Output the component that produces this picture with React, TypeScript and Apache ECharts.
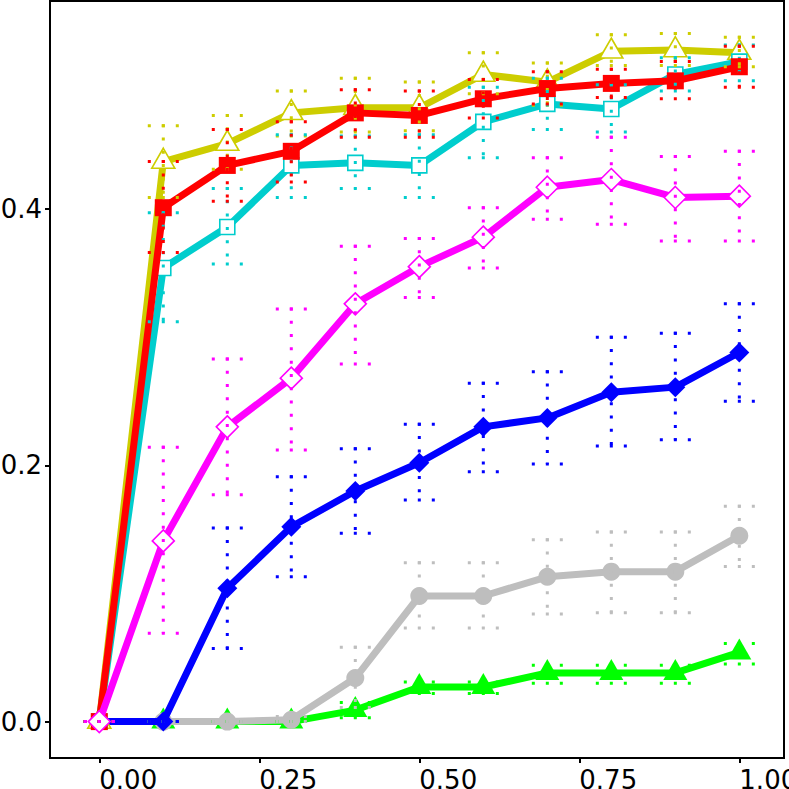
import React, { useEffect, useRef } from "react";
import * as echarts from "echarts";

const xValues = [0, 0.1, 0.2, 0.3, 0.4, 0.5, 0.6, 0.7, 0.8, 0.9, 1.0];
const xTickValues = [0, 0.25, 0.5, 0.75, 1.0];
const yTickValues = [0, 0.2, 0.4];

const yellowMean = [0, 0.437, 0.451, 0.475, 0.479, 0.479, 0.505, 0.499, 0.523, 0.524, 0.522];
const yellowLow = [0, 0.409, 0.431, 0.457, 0.46, 0.461, 0.49, 0.481, 0.512, 0.512, 0.511];
const yellowHigh = [0, 0.465, 0.473, 0.492, 0.502, 0.499, 0.522, 0.514, 0.536, 0.537, 0.534];

const redMean = [0, 0.401, 0.434, 0.445, 0.475, 0.473, 0.486, 0.494, 0.498, 0.5, 0.511];
const redLow = [0, 0.366, 0.406, 0.421, 0.456, 0.456, 0.471, 0.482, 0.487, 0.486, 0.495];
const redHigh = [0, 0.437, 0.462, 0.468, 0.493, 0.492, 0.501, 0.507, 0.509, 0.515, 0.527];

const cyanMean = [0, 0.354, 0.386, 0.434, 0.436, 0.434, 0.468, 0.482, 0.478, 0.505, 0.515];
const cyanLow = [0, 0.312, 0.357, 0.409, 0.416, 0.409, 0.44, 0.462, 0.46, 0.492, 0.5];
const cyanHigh = [0, 0.397, 0.416, 0.458, 0.457, 0.458, 0.495, 0.502, 0.497, 0.518, 0.528];

const magentaMean = [0, 0.141, 0.23, 0.268, 0.326, 0.355, 0.378, 0.417, 0.423, 0.409, 0.41];
const magentaLow = [0, 0.069, 0.177, 0.212, 0.279, 0.331, 0.354, 0.392, 0.388, 0.375, 0.375];
const magentaHigh = [0, 0.214, 0.283, 0.322, 0.371, 0.377, 0.401, 0.44, 0.456, 0.441, 0.445];

const blueMean = [0, 0, 0.104, 0.152, 0.18, 0.202, 0.23, 0.237, 0.257, 0.261, 0.288];
const blueLow = [0, 0, 0.057, 0.113, 0.147, 0.173, 0.195, 0.201, 0.215, 0.22, 0.25];
const blueHigh = [0, 0, 0.151, 0.191, 0.213, 0.232, 0.264, 0.273, 0.3, 0.303, 0.326];

const grayMean = [0, 0, 0, 0.0015, 0.034, 0.098, 0.098, 0.113, 0.117, 0.117, 0.145];
const grayLow = [0, 0, 0, 0, 0.011, 0.073, 0.073, 0.084, 0.085, 0.085, 0.121];
const grayHigh = [0, 0, 0, 0.004, 0.058, 0.124, 0.124, 0.142, 0.148, 0.148, 0.168];

const greenMean = [0, 0, 0, 0, 0.009, 0.027, 0.027, 0.038, 0.038, 0.038, 0.054];
const greenLow = [0, 0, 0, 0, 0.003, 0.022, 0.022, 0.03, 0.03, 0.03, 0.045];
const greenHigh = [0, 0, 0, 0, 0.015, 0.031, 0.031, 0.044, 0.044, 0.044, 0.061];

type Group = {
  name: string;
  color: string;
  symbol: string;
  size: number | number[];
  offset: number[];
  hollow: boolean;
  mean: number[];
  low: number[];
  high: number[];
};

// drawing order: first is bottom-most
const groups: Group[] = [
  { name: "green", color: "#00FF00", symbol: "triangle", size: [24, 21], offset: [0, -3.5], hollow: false, mean: greenMean, low: greenLow, high: greenHigh },
  { name: "gray", color: "#BEBEBE", symbol: "circle", size: 18, offset: [0, 0], hollow: false, mean: grayMean, low: grayLow, high: grayHigh },
  { name: "blue", color: "#0000FF", symbol: "diamond", size: 20, offset: [0, 0], hollow: false, mean: blueMean, low: blueLow, high: blueHigh },
  { name: "yellow", color: "#CDCD00", symbol: "triangle", size: [23, 20], offset: [0, -3.3], hollow: true, mean: yellowMean, low: yellowLow, high: yellowHigh },
  { name: "cyan", color: "#00CDCD", symbol: "rect", size: 15, offset: [0, 0], hollow: true, mean: cyanMean, low: cyanLow, high: cyanHigh },
  { name: "red", color: "#FF0000", symbol: "rect", size: 17, offset: [0, 0], hollow: false, mean: redMean, low: redLow, high: redHigh },
  { name: "magenta", color: "#FF00FF", symbol: "diamond", size: 22, offset: [0, 0], hollow: true, mean: magentaMean, low: magentaLow, high: magentaHigh },
];

export default function App() {
  const ref = useRef<HTMLDivElement>(null);

  useEffect(() => {
    document.body.style.margin = "0";
    const chart = echarts.init(ref.current as HTMLDivElement, null, { renderer: "svg" });

    const lineSeries = groups.map((g, i) => ({
      type: "line",
      name: g.name,
      data: xValues.map((x, j) => [x, g.mean[j]]),
      symbol: g.symbol,
      symbolSize: g.size,
      symbolOffset: g.offset,
      showAllSymbol: true,
      z: 2 + i * 0.01,
      lineStyle: { color: g.color, width: 7, cap: "round", join: "round" },
      itemStyle: g.hollow
        ? { color: "#ffffff", borderColor: g.color, borderWidth: 1.6, opacity: 1 }
        : { color: g.color, borderWidth: 0, opacity: 1 },
      emphasis: { disabled: true },
      silent: true,
      clip: false,
    }));

    const errorSeries = groups.map((g) => ({
      type: "custom",
      name: g.name + "-err",
      coordinateSystem: "cartesian2d",
      data: xValues.map((x, j) => [x, g.low[j], g.high[j]]),
      encode: { x: 0, y: [1, 2] },
      z: 10,
      silent: true,
      renderItem: (_params: any, api: any) => {
        const x = api.value(0);
        const lo = api.coord([x, api.value(1)]);
        const hi = api.coord([x, api.value(2)]);
        const half = 15.5;
        const style = {
          stroke: g.color,
          lineWidth: 3,
          lineDash: [3, 10.3],
          lineCap: "butt",
          fill: null,
        };
        const capStyle = { ...style, lineDash: [3, 11] };
        return {
          type: "group",
          children: [
            { type: "line", shape: { x1: hi[0], y1: hi[1] - 1.5, x2: lo[0], y2: lo[1] }, style },
            { type: "line", shape: { x1: hi[0] - half, y1: hi[1], x2: hi[0] + half, y2: hi[1] }, style: capStyle },
            { type: "line", shape: { x1: lo[0] - half, y1: lo[1], x2: lo[0] + half, y2: lo[1] }, style: capStyle },
          ],
        };
      },
    }));

    const labelFont = {
      fontFamily: "DejaVu Sans",
      fontSize: 26,
      color: "#000000",
    };

    const option = {
      animation: false,
      backgroundColor: "#ffffff",
      grid: {
        left: 50,
        right: 5,
        top: 1,
        bottom: 31,
        show: true,
        borderColor: "#000000",
        borderWidth: 2,
        backgroundColor: "#ffffff",
        containLabel: false,
        outerBoundsMode: "none",
      },
      xAxis: {
        type: "value",
        min: -0.077,
        max: 1.0698,
        splitLine: { show: false },
        axisLine: { show: false, onZero: false },
        axisTick: {
          show: true,
          length: 5,
          lineStyle: { color: "#000000", width: 2 },
          customValues: xTickValues,
        },
        axisLabel: {
          ...labelFont,
          margin: 9,
          align: "left",
          customValues: xTickValues,
          formatter: (v: number) => v.toFixed(2),
        },
      },
      yAxis: {
        type: "value",
        min: -0.0284,
        max: 0.5623,
        splitLine: { show: false },
        axisLine: { show: false, onZero: false },
        axisTick: {
          show: true,
          length: 5,
          lineStyle: { color: "#000000", width: 2 },
          customValues: yTickValues,
        },
        axisLabel: {
          ...labelFont,
          margin: 8,
          customValues: yTickValues,
          formatter: (v: number) => v.toFixed(1),
        },
      },
      series: [...lineSeries, ...errorSeries],
    };

    chart.setOption(option as any);
    return () => chart.dispose();
  }, []);

  return (
    <div
      ref={ref}
      style={{ position: "fixed", left: 0, top: 0, width: 789, height: 789, background: "#ffffff" }}
    />
  );
}
